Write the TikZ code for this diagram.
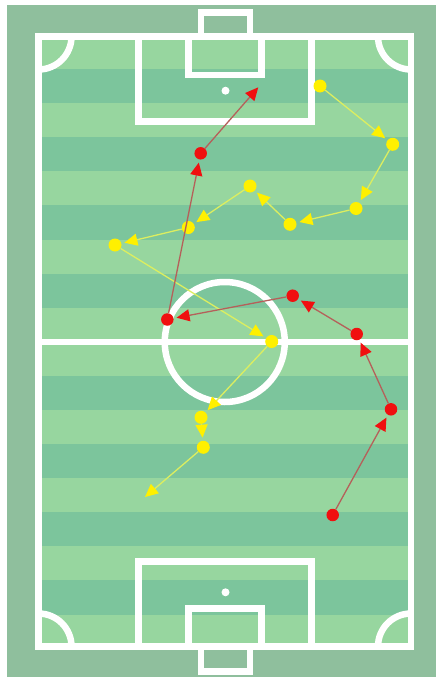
\documentclass[tikz,border=0pt]{standalone}
\usetikzlibrary{arrows.meta}
\definecolor{outerg}{HTML}{8FBF9D}
\definecolor{lightg}{HTML}{97D69F}
\definecolor{darkg}{HTML}{7CC59C}
\definecolor{redline}{HTML}{B5605A}
\definecolor{yelline}{HTML}{DCEE60}
\definecolor{yelpt}{HTML}{FFF000}
\definecolor{redpt}{HTML}{F01010}
\begin{document}
\begin{tikzpicture}[x=1pt,y=-1pt,
  fieldline/.style={white, line width=6.5pt},
  ypt/.style={circle, fill=yelpt, inner sep=0pt, minimum size=13pt},
  rpt/.style={circle, fill=redpt, inner sep=0pt, minimum size=12.5pt},
  ypass/.style={yelline, line width=1.3pt, -{Triangle[length=13pt,width=12pt,color=yelpt]}, shorten >=3pt},
  rpass/.style={redline, line width=1.3pt, -{Triangle[length=13pt,width=12pt,color=redpt]}, shorten >=3pt},
  toend/.style={shorten >=0pt}]
\useasboundingbox (0,0) rectangle (436,677);
\fill[white] (0,0) rectangle (436,677);
\fill[outerg] (7,5) rectangle (436,677);
% stripes
\fill[lightg] (38.5,36.5) rectangle (411,646.5);
\foreach \a/\b in {69/103,137/171,205/240,274/308,376/410,444/478,512/546,580/615}
  \fill[darkg] (38.5,\a) rectangle (411,\b);
% corner arcs
\begin{scope}
  \clip (38.5,36.5) rectangle (411,646.5);
  \draw[fieldline] (38.5,36.5) circle (33);
  \draw[fieldline] (411,36.5) circle (33);
  \draw[fieldline] (38.5,646.5) circle (33);
  \draw[fieldline] (411,646.5) circle (33);
\end{scope}
% lines
\draw[fieldline] (38.5,36.5) rectangle (411,646.5);
\draw[fieldline] (38.5,342) -- (411,342);
\draw[fieldline] (224.75,342) circle (60);
\draw[fieldline] (138.5,36.5) rectangle (311.5,121.5);
\draw[fieldline] (138.5,561.5) rectangle (311.5,646.5);
\draw[fieldline] (188.5,36.5) rectangle (261.5,75);
\draw[fieldline] (188.5,608.5) rectangle (261.5,646.5);
\draw[fieldline] (201,12.5) rectangle (250,36.5);
\draw[fieldline] (201,646.5) rectangle (250,671.5);
\fill[white] (225.5,90.7) circle (4);
\fill[white] (225.5,592.3) circle (4);
% yellow team
\node[ypt] (y1) at (320,86) {};
\node[ypt] (y2) at (392.7,144.3) {};
\node[ypt] (y3) at (356,208.5) {};
\node[ypt] (y4) at (290,224.3) {};
\node[ypt] (y5) at (250,186) {};
\node[ypt] (y6) at (188.3,227.5) {};
\node[ypt] (y7) at (115,245) {};
\node[ypt] (y8) at (271.7,341.5) {};
\node[ypt] (y9) at (201,417.3) {};
\node[ypt] (y10) at (203.3,447.3) {};
\coordinate (yend) at (145,497);
% red team
\node[rpt] (r1) at (332.7,515) {};
\node[rpt] (r2) at (391,409.3) {};
\node[rpt] (r3) at (356.7,334) {};
\node[rpt] (r4) at (292.7,295.7) {};
\node[rpt] (r5) at (167.3,319.5) {};
\node[rpt] (r6) at (200.7,153.3) {};
\coordinate (rend) at (258.3,87.3);
% passes
\draw[ypass] (y1) -- (y2);
\draw[ypass] (y2) -- (y3);
\draw[ypass] (y3) -- (y4);
\draw[ypass] (y4) -- (y5);
\draw[ypass] (y5) -- (y6);
\draw[ypass] (y6) -- (y7);
\draw[ypass] (y7) -- (y8);
\draw[ypass] (y8) -- (y9);
\draw[ypass] (y9) -- (y10);
\draw[ypass,toend] (y10) -- (yend);
\draw[rpass] (r1) -- (r2);
\draw[rpass] (r2) -- (r3);
\draw[rpass] (r3) -- (r4);
\draw[rpass] (r4) -- (r5);
\draw[rpass] (r5) -- (r6);
\draw[rpass,toend] (r6) -- (rend);
\end{tikzpicture}
\end{document}
